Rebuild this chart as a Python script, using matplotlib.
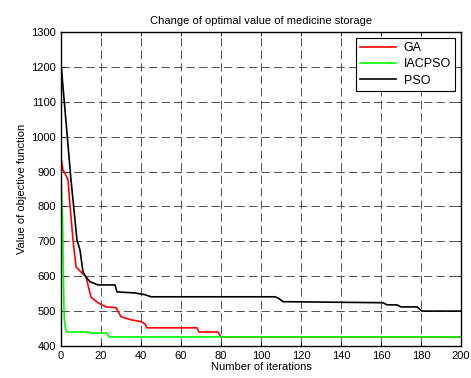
import matplotlib
matplotlib.use('Agg')
import matplotlib.pyplot as plt

plt.rcParams['font.family'] = ['Liberation Sans', 'DejaVu Sans']
plt.rcParams['lines.scale_dashes'] = False

# Данные
ga_iter = [0, 1, 2, 3.5, 4.5, 6, 7.5, 10, 12.5, 15, 18.5, 22.5, 27.5, 30, 35, 40, 42, 43,
           68, 69, 78.5, 80, 200]
ga_val = [942, 905, 895, 876, 804, 704, 627, 612, 598, 540, 524, 512, 510, 484, 475, 470,
          463, 452, 452, 440, 440, 426, 426]

iacpso_iter = [0, 0.8, 1.2, 1.6, 2.2, 3, 14, 15, 23, 24, 200]
iacpso_val = [885, 760, 600, 480, 450, 440, 440, 437, 437, 426, 426]

pso_iter = [0, 5, 8, 9.5, 11, 12.5, 14.5, 18.5, 27, 28, 37, 42, 45, 107, 109, 111,
            161, 163, 168, 170, 178, 180.5, 200]
pso_val = [1210, 876, 704, 675, 612, 598, 584, 575, 575, 555, 552, 547, 541, 541, 536,
           527, 524, 518, 518, 512, 512, 500, 500]

x_ticks = list(range(0, 201, 20))
y_ticks = list(range(400, 1301, 100))

fig = plt.figure(figsize=(4.71, 3.78), dpi=100)
ax = fig.add_axes([0.1295, 0.0847, 0.8493, 0.8306])

ax.plot(ga_iter, ga_val, color='#ff0000', linewidth=1.2, label='GA')
ax.plot(iacpso_iter, iacpso_val, color='#00ff00', linewidth=1.2, label='IACPSO')
ax.plot(pso_iter, pso_val, color='black', linewidth=1.2, label='PSO')

ax.set_xlim(0, 200)
ax.set_ylim(400, 1300)
ax.set_xticks(x_ticks)
ax.set_yticks(y_ticks)
ax.tick_params(direction='in', top=True, right=True, labelsize=8, length=3, width=0.6)
ax.grid(True, color='#333333', linestyle=(0, (6, 3)), linewidth=0.6)
for s in ax.spines.values():
    s.set_linewidth(1.0)

ax.set_title('Change of optimal value of medicine storage', fontsize=8, pad=6)
ax.set_xlabel('Number of iterations', fontsize=8, labelpad=1)
ax.set_ylabel('Value of objective function', fontsize=8, labelpad=3)

leg = ax.legend(loc='upper right', fontsize=9, fancybox=False, framealpha=1,
                edgecolor='black', handlelength=2.9, borderaxespad=0.45,
                labelspacing=0.35, borderpad=0.35, handletextpad=0.6)
leg.get_frame().set_linewidth(0.8)

plt.savefig('out.png', dpi=100)
plt.close(fig)
